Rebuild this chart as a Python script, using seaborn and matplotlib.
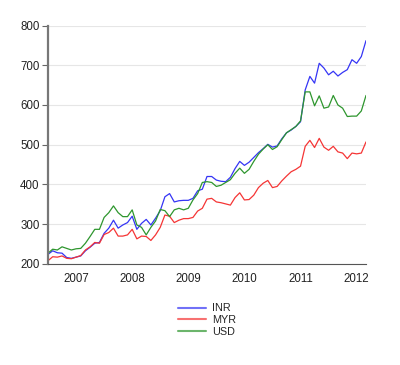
import numpy as np
import pandas as pd
import matplotlib.pyplot as plt
import seaborn as sns

# monthly values, Jan 2007 .. Sep 2012
inr = [224, 233, 228, 227, 216, 214, 217, 220, 233, 242, 252, 254,
       277, 290, 310, 290, 298, 304, 320, 287, 302, 312, 298, 315,
       334, 369, 377, 356, 359, 360, 360, 365, 384, 388, 420, 420,
       411, 408, 407, 418, 440, 458, 448, 456, 468, 480, 490, 501,
       494, 497, 515, 530, 537, 546, 558, 638, 672, 655, 705, 693,
       676, 685, 673, 682, 689, 714, 705, 722, 762]
myr = [208, 218, 217, 220, 214, 213, 217, 221, 235, 243, 254, 252,
       274, 279, 290, 270, 270, 273, 287, 263, 270, 269, 259, 273,
       292, 323, 320, 304, 310, 314, 314, 317, 333, 340, 363, 365,
       356, 354, 351, 348, 367, 379, 361, 362, 373, 392, 403, 410,
       392, 395, 409, 421, 432, 438, 446, 496, 511, 493, 516, 494,
       486, 496, 482, 479, 465, 479, 477, 479, 507]
usd = [227, 237, 235, 243, 239, 235, 238, 239, 252, 269, 287, 287,
       317, 329, 346, 329, 319, 319, 336, 298, 292, 273, 292, 308,
       337, 334, 319, 336, 340, 336, 340, 361, 377, 405, 407, 405,
       395, 398, 405, 412, 428, 441, 428, 438, 458, 476, 489, 500,
       488, 495, 513, 530, 538, 546, 560, 633, 633, 598, 623, 592,
       595, 624, 600, 592, 571, 572, 572, 585, 624]
years = [2007, 2008, 2009, 2010, 2011, 2012]

t = 2007 + np.arange(len(inr)) / 12
df = pd.DataFrame({
    't': np.concatenate([t, t, t]),
    'value': inr + myr + usd,
    'series': ['INR'] * len(inr) + ['MYR'] * len(myr) + ['USD'] * len(usd),
})

sns.set_style('white')
plt.rcParams['font.family'] = ['Liberation Sans', 'DejaVu Sans']

fig = plt.figure(figsize=(4, 3.65), dpi=100)
ax = fig.add_axes([0.12, 0.277, 0.795, 0.653])
sns.lineplot(data=df, x='t', y='value', hue='series', ax=ax,
             palette={'INR': '#3535f5', 'MYR': '#f53535', 'USD': '#2e962e'},
             linewidth=0.9)

ax.set_xlim(t[0], t[-1])
ax.set_ylim(200, 800)
ax.set_yticks([200, 300, 400, 500, 600, 700, 800])
ax.yaxis.grid(True, color='#e6e6e6', linewidth=0.8)
ax.set_axisbelow(True)
ax.set_xticks(years)
ax.set_xticklabels([])
ax.set_xticks([y + 0.5 for y in years], minor=True)
ax.set_xticklabels([str(y) for y in years], minor=True)
ax.tick_params(axis='x', which='major', length=4.3, width=0.8, color='#555555', direction='out')
ax.tick_params(axis='x', which='minor', length=0, labelsize=8.3, pad=6.5, labelcolor='#222222')
ax.tick_params(axis='y', length=4, width=0.8, color='#666666', labelsize=8.3, pad=2,
               left=True, labelcolor='#222222')
ax.set_xlabel('')
ax.set_ylabel('')
for s in ['top', 'right']:
    ax.spines[s].set_visible(False)
ax.spines['left'].set_color('#777777')
ax.spines['left'].set_linewidth(1.6)
ax.spines['bottom'].set_color('#555555')
ax.spines['bottom'].set_linewidth(0.8)

leg = ax.legend(loc='upper center', bbox_to_anchor=(0.5, -0.125), frameon=False,
                fontsize=7.8, handlelength=2.6, labelspacing=0.15, handletextpad=0.5)
for h in leg.get_lines():
    h.set_linewidth(1.5)
    h.set_alpha(0.7)

fig.savefig('out.png', dpi=100)
